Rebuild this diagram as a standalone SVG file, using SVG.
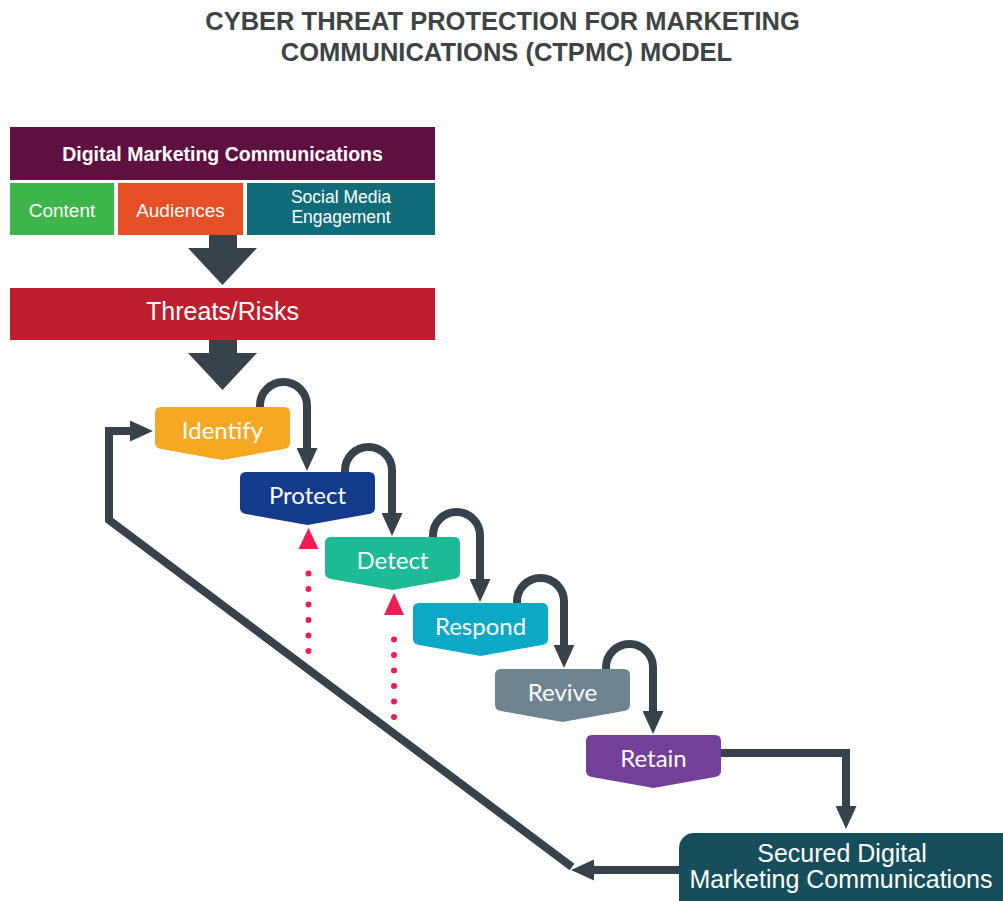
<svg xmlns="http://www.w3.org/2000/svg" xmlns:xlink="http://www.w3.org/1999/xlink" width="1003" height="901" viewBox="0 0 1003 901">
  <style>
    .title { font-family: "Liberation Sans", Arial, sans-serif; font-weight: bold; font-size: 25.5px; fill: #3e4446; text-anchor: middle; }
    .hdr { font-family: "Liberation Sans", Arial, sans-serif; font-weight: bold; font-size: 19.5px; fill: #ffffff; text-anchor: middle; }
    .sub { font-family: "Liberation Sans", Arial, sans-serif; font-size: 19px; fill: #ffffff; text-anchor: middle; }
    .sub2 { font-family: "Liberation Sans", Arial, sans-serif; font-size: 17.5px; fill: #ffffff; text-anchor: middle; }
    .big { font-family: "Liberation Sans", Arial, sans-serif; font-size: 25px; fill: #ffffff; text-anchor: middle; }
    .step { font-family: Lato, "Open Sans", sans-serif; font-size: 24px; fill: #ffffff; text-anchor: middle; }
    .flow { fill: none; stroke: #37424a; stroke-width: 8; stroke-linejoin: miter; }
    .dots { fill: none; stroke: #ee1d52; stroke-width: 6; stroke-linecap: round; stroke-dasharray: 0 15.5; }
    .bigarrow { fill: #37424a; }
  </style>
  <defs>
    <!-- step tile: rounded top, chevron bottom -->
    <path id="tile" d="M6,0 H129 Q135,0 135,6 V36 Q135,41 129,42 L67.5,53 L6,42 Q0,41 0,36 V6 Q0,0 6,0 Z"/>
    <marker id="head" viewBox="0 0 23 21" markerWidth="23" markerHeight="21" refX="0" refY="10.5" orient="auto" markerUnits="userSpaceOnUse">
      <path d="M0,0 L23,10.5 L0,21 Z" fill="#37424a"/>
    </marker>
  </defs>

  <!-- heading -->
  <text class="title" x="502.5" y="30">CYBER THREAT PROTECTION FOR MARKETING</text>
  <text class="title" x="506.5" y="61">COMMUNICATIONS (CTPMC) MODEL</text>

  <!-- input block -->
  <g id="dmc">
    <rect x="10" y="127" width="425" height="53" fill="#5e1040"/>
    <text class="hdr" x="222.5" y="161">Digital Marketing Communications</text>
  </g>
  <g id="content">
    <rect x="10" y="183" width="104" height="52" fill="#3db54a"/>
    <text class="sub" x="62" y="217">Content</text>
  </g>
  <g id="audiences">
    <rect x="118" y="183" width="125" height="52" fill="#e64f26"/>
    <text class="sub" x="180.5" y="217">Audiences</text>
  </g>
  <g id="social">
    <rect x="247" y="183" width="188" height="52" fill="#0f6c78"/>
    <text class="sub2" x="341" y="203">Social Media</text>
    <text class="sub2" x="341" y="223">Engagement</text>
  </g>
  <g id="threats">
    <rect x="10" y="288" width="425" height="52" fill="#be1e2d"/>
    <text class="big" x="222.5" y="320">Threats/Risks</text>
  </g>

  <!-- connectors -->
  <g id="connectors">
    <polygon class="bigarrow" points="209,235 237,235 237,248 257,248 222.5,285 188,248 209,248"/>
    <polygon class="bigarrow" points="209,340 237,340 237,353 257,353 222.5,390 188,353 209,353"/>

    <path class="flow" d="M260,408 V405.5 A23.5,23.5 0 0 1 307,405.5 V448" marker-end="url(#head)"/>
    <path class="flow" d="M345,473 V470.5 A23.5,23.5 0 0 1 392,470.5 V513" marker-end="url(#head)"/>
    <path class="flow" d="M433,538 V535.5 A23.5,23.5 0 0 1 480,535.5 V579" marker-end="url(#head)"/>
    <path class="flow" d="M517,604 V601.5 A23.5,23.5 0 0 1 564,601.5 V645" marker-end="url(#head)"/>
    <path class="flow" d="M606,670 V667.5 A23.5,23.5 0 0 1 653,667.5 V711" marker-end="url(#head)"/>

    <path class="flow" d="M720,753 H846 V806" marker-end="url(#head)"/>
    <path class="flow" d="M680,870 H594" marker-end="url(#head)"/>
    <path class="flow" d="M572,867 L109,520 V431 H130" marker-end="url(#head)"/>

    <line class="dots" x1="308.5" y1="651" x2="308.5" y2="558"/>
    <polygon points="298.5,549 318.5,549 308.5,528" fill="#ee1d52"/>
    <line class="dots" x1="394" y1="717" x2="394" y2="624"/>
    <polygon points="384,615 404,615 394,593" fill="#ee1d52"/>
  </g>

  <!-- process steps -->
  <g id="identify">
    <use xlink:href="#tile" x="155" y="407" fill="#f7a823"/>
    <text class="step" x="222.5" y="439">Identify</text>
  </g>
  <g id="protect">
    <use xlink:href="#tile" x="240" y="472" fill="#143b8b"/>
    <text class="step" x="307.5" y="504">Protect</text>
  </g>
  <g id="detect">
    <use xlink:href="#tile" x="325" y="537" fill="#1dba96"/>
    <text class="step" x="392.5" y="569">Detect</text>
  </g>
  <g id="respond">
    <use xlink:href="#tile" x="413" y="603" fill="#0ba9c5"/>
    <text class="step" x="480.5" y="635">Respond</text>
  </g>
  <g id="revive">
    <use xlink:href="#tile" x="495" y="669" fill="#6f8491"/>
    <text class="step" x="562.5" y="701">Revive</text>
  </g>
  <g id="retain">
    <use xlink:href="#tile" x="586" y="735" fill="#733f98"/>
    <text class="step" x="653.5" y="767">Retain</text>
  </g>

  <!-- outcome -->
  <g id="secured">
    <rect x="679" y="833" width="340" height="90" rx="15" ry="15" fill="#174e5c"/>
    <text class="big" x="842" y="862">Secured Digital</text>
    <text class="big" x="841" y="888">Marketing Communications</text>
  </g>
</svg>
